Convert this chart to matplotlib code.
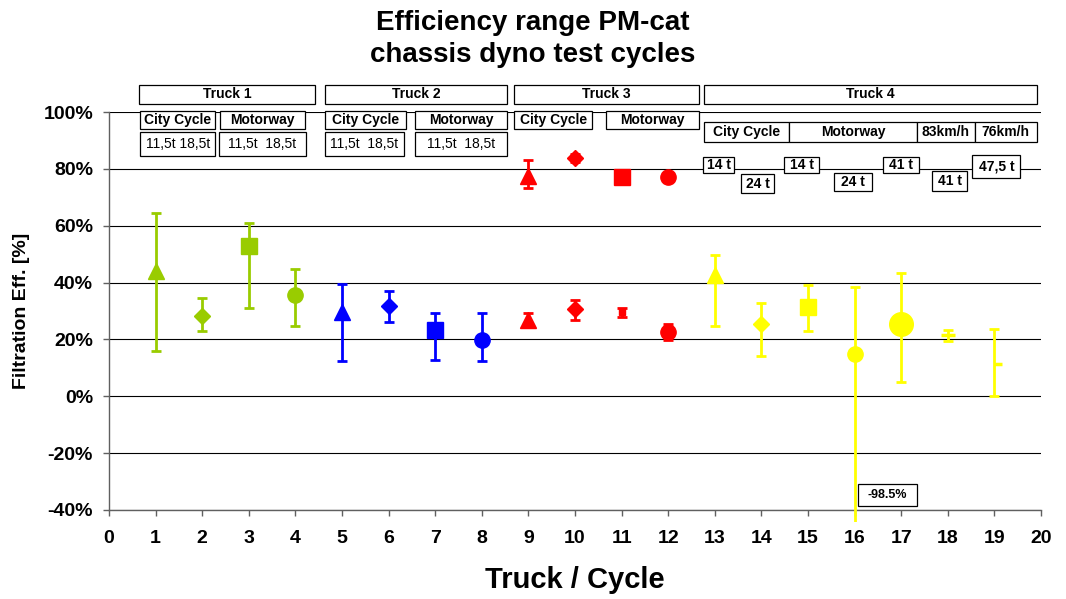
import numpy as np
import matplotlib
matplotlib.use("Agg")
import matplotlib.pyplot as plt
from matplotlib.patches import Rectangle

plt.rcParams['font.family'] = ['Liberation Sans', 'DejaVu Sans']

# ---- data (filtration efficiency in %) ----
markers = ['^', 'D', 's', 'o']

t1_x = [1, 2, 3, 4]
t1_mean = [44.0, 28.4, 53.0, 35.7]
t1_lo = [15.8, 22.9, 31.1, 24.7]
t1_hi = [64.3, 34.4, 60.9, 44.6]

t2_x = [5, 6, 7, 8]
t2_mean = [29.6, 31.9, 23.2, 19.9]
t2_lo = [12.4, 26.2, 12.9, 12.4]
t2_hi = [39.5, 37.0, 29.4, 29.4]

t3_x = [9, 10, 11, 12]
t3a_mean = [77.6, 83.8, 77.3, 77.0]
t3a_lo = [73.3, 82.3, 77.3, 77.0]
t3a_hi = [83.1, 85.3, 77.3, 77.0]
t3b_mean = [26.7, 30.6, 29.5, 22.6]
t3b_lo = [24.2, 26.7, 27.9, 19.9]
t3b_hi = [29.3, 33.7, 31.0, 25.5]

t4_x = [13, 14, 15, 16, 17, 18, 19]
t4_mean = [42.5, 25.5, 31.4, 15.0, 25.3, 21.7, 11.5]
t4_lo = [24.6, 14.1, 23.0, -98.5, 5.0, 19.3, 0.0]
t4_hi = [49.8, 32.8, 39.0, 38.4, 43.4, 23.2, 23.5]
t4_markers = ['^', 'D', 's', 'o', 'o', '_', 1]
t4_sizes = [11, 8, 11, 11, 17, 10, 6]

yticks = [-40, -20, 0, 20, 40, 60, 80, 100]
ylabels = ['-40%', '-20%', '0%', '20%', '40%', '60%', '80%', '100%']
xticks = list(range(0, 21))

green = '#99CC00'
blue = '#0000FF'
red = '#FF0000'
yellow = '#FFFF00'

fig = plt.figure(figsize=(10.66, 5.99), dpi=100)
ax = fig.add_axes([0.1023, 0.1486, 0.8742, 0.6644])
ax.set_xlim(0, 20)
ax.set_ylim(-40, 100)

clip = Rectangle((0, -0.03), 1, 1.2, transform=ax.transAxes)


def draw(x, m, lo, hi, mk, col, ms=11):
    cont = ax.errorbar([x], [m], yerr=[[m - lo], [hi - m]], fmt='none',
                       ecolor=col, elinewidth=2, capsize=3.6, capthick=2,
                       zorder=3)
    for art in cont.get_children():
        art.set_clip_path(clip)
    ax.plot([x], [m], linestyle='none', marker=mk, ms=ms, color=col,
            mec=col, mfc=col, mew=2.5 if mk in ('_', 1) else 1, zorder=4)


size_map = {'^': 11, 'D': 8, 's': 11, 'o': 11}
for i in range(4):
    draw(t1_x[i], t1_mean[i], t1_lo[i], t1_hi[i], markers[i], green, size_map[markers[i]])
    draw(t2_x[i], t2_mean[i], t2_lo[i], t2_hi[i], markers[i], blue, size_map[markers[i]])
    draw(t3_x[i], t3a_mean[i], t3a_lo[i], t3a_hi[i], markers[i], red, size_map[markers[i]])
    ms_b = 5 if i == 2 else size_map[markers[i]]
    draw(t3_x[i], t3b_mean[i], t3b_lo[i], t3b_hi[i], markers[i], red, ms_b)
for i in range(len(t4_x)):
    draw(t4_x[i], t4_mean[i], t4_lo[i], t4_hi[i], t4_markers[i], yellow, t4_sizes[i])

ax.set_yticks(yticks)
ax.set_yticklabels(ylabels)
ax.set_xticks(xticks)
ax.grid(axis='y', color='black', lw=0.8)
ax.set_axisbelow(True)
for s in ['top', 'right']:
    ax.spines[s].set_visible(False)
for s in ['left', 'bottom']:
    ax.spines[s].set_color('#606060')
    ax.spines[s].set_linewidth(1)
ax.tick_params(axis='both', direction='out', length=4.5, width=1, color='#606060',
               labelsize=14)
ax.tick_params(axis='x', pad=10)
ax.tick_params(axis='y', pad=7)
for lab in ax.get_xticklabels() + ax.get_yticklabels():
    lab.set_fontweight('bold')


def box(x0, x1, y0, y1, text, size=10, bold=True):
    ax.add_patch(Rectangle((x0, y0), x1 - x0, y1 - y0, fc='white', ec='black',
                           lw=0.9, clip_on=False, zorder=5))
    ax.text((x0 + x1) / 2, (y0 + y1) / 2, text, ha='center', va='center',
            fontsize=size, fontweight='bold' if bold else 'normal',
            clip_on=False, zorder=6)


# truck header row
box(0.65, 4.41, 102.8, 109.6, 'Truck 1')
box(4.64, 8.55, 102.8, 109.6, 'Truck 2')
box(8.70, 12.66, 102.8, 109.6, 'Truck 3')
box(12.76, 19.91, 102.8, 109.6, 'Truck 4')

# cycle row, trucks 1-3
box(0.67, 2.28, 93.9, 100.5, 'City Cycle')
box(2.38, 4.21, 93.9, 100.5, 'Motorway')
box(4.64, 6.37, 93.9, 100.5, 'City Cycle')
box(6.57, 8.55, 93.9, 100.5, 'Motorway')
box(8.70, 10.37, 93.9, 100.5, 'City Cycle')
box(10.66, 12.66, 93.9, 100.5, 'Motorway')

# weight row, trucks 1-2
box(0.67, 2.28, 84.5, 93.1, '11,5t 18,5t', bold=False)
box(2.36, 4.22, 84.5, 93.1, '11,5t  18,5t', bold=False)
box(4.64, 6.32, 84.5, 93.1, '11,5t  18,5t', bold=False)
box(6.57, 8.55, 84.5, 93.1, '11,5t  18,5t', bold=False)

# truck 4 cycles
box(12.76, 14.60, 89.4, 96.4, 'City Cycle')
box(14.60, 17.33, 89.4, 96.4, 'Motorway')
box(17.33, 18.58, 89.4, 96.4, '83km/h')
box(18.58, 19.91, 89.4, 96.4, '76km/h')

# truck 4 weights
box(12.75, 13.42, 78.4, 84.3, '14 t')
box(13.56, 14.28, 71.5, 78.2, '24 t')
box(14.49, 15.24, 78.4, 84.3, '14 t')
box(15.56, 16.37, 72.1, 78.5, '24 t')
box(16.60, 17.39, 78.4, 84.3, '41 t')
box(17.67, 18.42, 72.3, 79.1, '41 t')
box(18.53, 19.56, 76.7, 84.9, '47,5 t')

box(16.08, 17.34, -38.7, -30.8, '-98.5%', size=9)

fig.text(0.5, 1 - 39 / 599, 'Efficiency range PM-cat\nchassis dyno test cycles',
         ha='center', va='center', fontsize=20, fontweight='bold', linespacing=1.32)
fig.text(0.539, 1 - 580 / 599, 'Truck / Cycle', ha='center', va='center',
         fontsize=21, fontweight='bold')
fig.text(22 / 1066, 1 - 311 / 599, 'Filtration Eff. [%]', ha='center', va='center',
         rotation=90, fontsize=14, fontweight='bold')

fig.savefig('out.png', dpi=100)
